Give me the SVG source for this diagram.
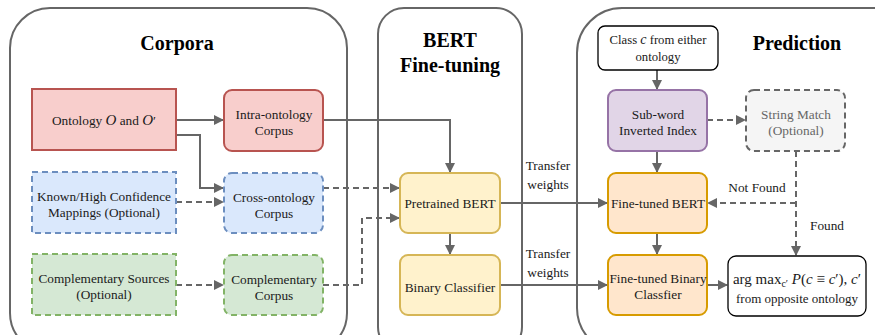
<svg xmlns="http://www.w3.org/2000/svg" width="875" height="335" viewBox="0 0 875 335" font-family="'Liberation Serif', 'Times New Roman', 'DejaVu Serif', serif">
<defs>
<marker id="arr" viewBox="0 0 10 10" refX="9" refY="5" markerWidth="5" markerHeight="5" orient="auto" markerUnits="strokeWidth">
<path d="M0,0 L10,5 L0,10 z" fill="#666666"/>
</marker>
<style>
text{font-family:'Liberation Serif','Times New Roman','DejaVu Serif',serif;fill:#1a1a1a;}
.t{font-size:13.3px;text-anchor:middle;}
.title{font-size:20px;font-weight:bold;text-anchor:middle;fill:#000;}
.cont{fill:#ffffff;stroke:#666666;stroke-width:2;}
.c{fill:none;stroke:#666666;stroke-width:2;marker-end:url(#arr);}
.d{stroke-dasharray:6,4;}
.red{fill:#f8cecc;stroke:#b85450;stroke-width:2;}
.blue{fill:#dae8fc;stroke:#6c8ebf;stroke-width:2;stroke-dasharray:6,4;}
.green{fill:#d5e8d4;stroke:#82b366;stroke-width:2;stroke-dasharray:6,4;}
.yel{fill:#fff2cc;stroke:#d6b656;stroke-width:2;}
.orn{fill:#ffe6cc;stroke:#d79b00;stroke-width:2;}
.pur{fill:#e1d5e7;stroke:#9673a6;stroke-width:2;}
.gry{fill:#f5f5f5;stroke:#666666;stroke-width:2;stroke-dasharray:6,4;}
.wht{fill:#ffffff;stroke:#000000;stroke-width:1.3;}
</style>
</defs>
<rect width="875" height="335" fill="#ffffff"/>

<g id="corpora">
<rect class="cont" x="10" y="8" width="337" height="345" rx="40"/>
<text class="title" x="177" y="50">Corpora</text>
</g>
<g id="bert-finetuning">
<rect class="cont" x="378" y="8" width="144" height="345" rx="26"/>
<text class="title" x="450" y="47">BERT</text>
<text class="title" x="450" y="72">Fine-tuning</text>
</g>
<g id="prediction">
<rect class="cont" x="577" y="8" width="340" height="345" rx="45"/>
<text class="title" x="797" y="50">Prediction</text>
</g>

<g id="connectors">
<path class="c" d="M176,120 L223,120"/>
<path class="c" d="M176,135 L200,135 L200,188 L223,188"/>
<path class="c d" d="M176,202 L223,202"/>
<path class="c d" d="M176,285 L223,285"/>
<path class="c" d="M323,120 L450,120 L450,172"/>
<path class="c d" d="M323,188 L399,188"/>
<path class="c d" d="M323,285 L362,285 L362,218 L399,218"/>
<path class="c" d="M450,233 L450,254"/>
<path class="c" d="M500,203 L607,203"/>
<path class="c" d="M500,285 L607,285"/>
<path class="c" d="M657,70 L657,89"/>
<path class="c d" d="M707,120 L745,120"/>
<path class="c" d="M657,151 L657,172"/>
<path class="c d" d="M796,151 L796,255"/>
<path class="c d" d="M796,203 L708,203"/>
<path class="c" d="M657,233 L657,254"/>
<path class="c" d="M707,285 L727,285"/>
<text class="t" x="548" y="170">Transfer</text>
<text class="t" x="548" y="189">weights</text>
<text class="t" x="548" y="258">Transfer</text>
<text class="t" x="548" y="277">weights</text>
<text class="t" x="757" y="192">Not Found</text>
<text class="t" x="827" y="230">Found</text>
</g>

<g id="ontology">
<rect class="red" x="32" y="89" width="144" height="61"/>
<text class="t" x="104" y="125">Ontology <tspan font-style="italic" font-size="15">O</tspan> and <tspan font-style="italic" font-size="15">O</tspan>′</text>
</g>
<g id="intra-corpus">
<rect class="red" x="224" y="90" width="99" height="61" rx="8"/>
<text class="t" x="274" y="119">Intra-ontology</text>
<text class="t" x="274" y="135">Corpus</text>
</g>
<g id="known-mappings">
<rect class="blue" x="32" y="172" width="144" height="61"/>
<text class="t" x="104" y="201">Known/High Confidence</text>
<text class="t" x="104" y="217">Mappings (Optional)</text>
</g>
<g id="cross-corpus">
<rect class="blue" x="224" y="173" width="99" height="60" rx="8"/>
<text class="t" x="274" y="202">Cross-ontology</text>
<text class="t" x="274" y="218">Corpus</text>
</g>
<g id="comp-sources">
<rect class="green" x="32" y="254" width="144" height="61"/>
<text class="t" x="104" y="283">Complementary Sources</text>
<text class="t" x="104" y="299">(Optional)</text>
</g>
<g id="comp-corpus">
<rect class="green" x="224" y="255" width="99" height="60" rx="8"/>
<text class="t" x="274" y="284">Complementary</text>
<text class="t" x="274" y="300">Corpus</text>
</g>
<g id="pretrained-bert">
<rect class="yel" x="400" y="173" width="100" height="60" rx="8"/>
<text class="t" x="450" y="208">Pretrained BERT</text>
</g>
<g id="binary-classifier">
<rect class="yel" x="400" y="255" width="100" height="60" rx="8"/>
<text class="t" x="450" y="292">Binary Classifier</text>
</g>
<g id="class-c">
<rect class="wht" x="598" y="26" width="120" height="44" rx="7"/>
<text class="t" x="658" y="44" style="font-size:12.7px">Class <tspan font-style="italic" font-size="14">c</tspan> from either</text>
<text class="t" x="658" y="61" style="font-size:12.7px">ontology</text>
</g>
<g id="subword-index">
<rect class="pur" x="608" y="90" width="99" height="61" rx="8"/>
<text class="t" x="658" y="119">Sub-word</text>
<text class="t" x="658" y="135">Inverted Index</text>
</g>
<g id="string-match">
<rect class="gry" x="746" y="90" width="99" height="61" rx="8"/>
<text class="t" x="796" y="119" style="fill:#666666">String Match</text>
<text class="t" x="796" y="135" style="fill:#666666">(Optional)</text>
</g>
<g id="finetuned-bert">
<rect class="orn" x="608" y="173" width="99" height="60" rx="8"/>
<text class="t" x="658" y="208">Fine-tuned BERT</text>
</g>
<g id="finetuned-binary">
<rect class="orn" x="608" y="255" width="99" height="60" rx="8"/>
<text class="t" x="658" y="283">Fine-tuned Binary</text>
<text class="t" x="658" y="299">Classfier</text>
</g>
<g id="argmax">
<rect class="wht" x="728" y="256" width="138" height="60" rx="8"/>
<text class="t" x="797" y="284" style="font-size:15px">arg max<tspan font-size="10" dy="3">c′</tspan><tspan dy="-3"> </tspan><tspan font-style="italic">P</tspan>(<tspan font-style="italic">c</tspan> ≡ <tspan font-style="italic">c</tspan>′), <tspan font-style="italic">c</tspan>′</text>
<text class="t" x="797" y="303" style="font-size:13px">from opposite ontology</text>
</g>
</svg>
